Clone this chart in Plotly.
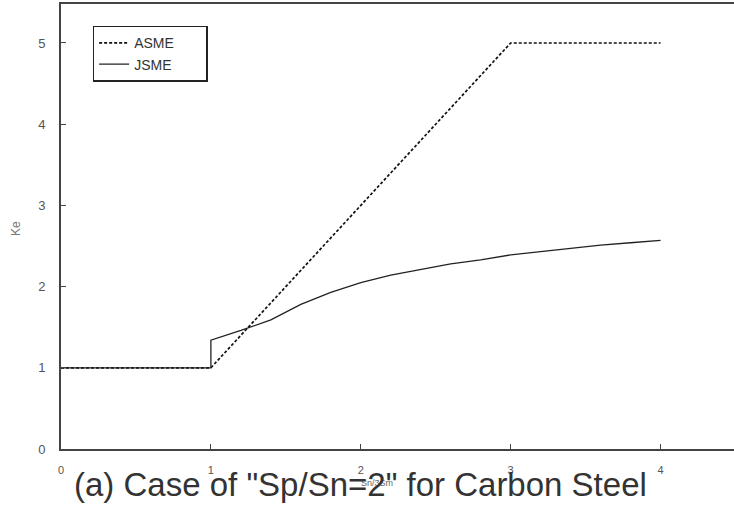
import plotly.graph_objects as go

# ASME curve
asme_x = [0, 1, 3, 4]
asme_y = [1, 1, 5, 5]

# JSME curve
jsme_x = [0, 1, 1, 1.2, 1.4, 1.6, 1.8, 2.0, 2.2, 2.4, 2.6, 2.8, 3.0, 3.2, 3.4, 3.6, 3.8, 4.0]
jsme_y = [1, 1, 1.34, 1.46, 1.59, 1.78, 1.93, 2.05, 2.14, 2.21, 2.28, 2.33, 2.39, 2.43, 2.47, 2.51, 2.54, 2.57]

x_ticks = [0, 1, 2, 3, 4]
y_ticks = [0, 1, 2, 3, 4, 5]

FONT = "Liberation Sans, Arial, sans-serif"
PAD = "\u00a0" * 7

fig = go.Figure()
fig.add_trace(go.Scatter(x=asme_x, y=asme_y, mode="lines", name="ASME" + PAD,
                         line=dict(color="#111111", width=1.7, dash="3px,2px")))
fig.add_trace(go.Scatter(x=jsme_x, y=jsme_y, mode="lines", name="JSME" + PAD,
                         line=dict(color="#222222", width=1.3)))

fig.update_layout(
    width=734, height=514,
    margin=dict(l=61, r=0, t=4, b=65),
    paper_bgcolor="white", plot_bgcolor="white",
    font=dict(family=FONT, color="#555555"),
    showlegend=True,
    legend=dict(x=0.047, y=0.951, xanchor="left", yanchor="top",
                bgcolor="white", bordercolor="#222222", borderwidth=1.5,
                font=dict(size=14, color="#333333"),
                itemwidth=30, tracegroupgap=0),
    xaxis=dict(range=[0, 4.49], tickvals=x_ticks, ticktext=[str(v) for v in x_ticks],
               showgrid=False, zeroline=False, showline=True, linecolor="#444444",
               linewidth=2, mirror=True, ticks="inside", ticklen=5, tickcolor="#444444",
               tickfont=dict(size=11, color="#555555"), ticklabelstandoff=10),
    yaxis=dict(range=[0, 5.48], tickvals=y_ticks, ticktext=[str(v) for v in y_ticks],
               showgrid=False, zeroline=False, showline=True, linecolor="#444444",
               linewidth=2, ticks="inside", ticklen=5, tickcolor="#444444",
               tickfont=dict(size=13, color="#555555"), ticklabelstandoff=11),
)

fig.add_annotation(text="Ke", xref="paper", yref="paper", x=-0.068, y=0.495,
                   xanchor="center", showarrow=False, textangle=-90,
                   font=dict(size=12, color="#777777"))
fig.add_annotation(text="Sn/3Sm", xref="paper", yref="paper", x=0.47, y=-0.093,
                   showarrow=False, font=dict(size=9, color="#666666"))
fig.add_annotation(text='(a) Case of "Sp/Sn=2" for Carbon Steel', xref="paper", yref="paper",
                   x=0.445, y=-0.08, yanchor="middle", showarrow=False,
                   font=dict(size=33, color="#333333", family=FONT))

fig.write_html("out.html")
